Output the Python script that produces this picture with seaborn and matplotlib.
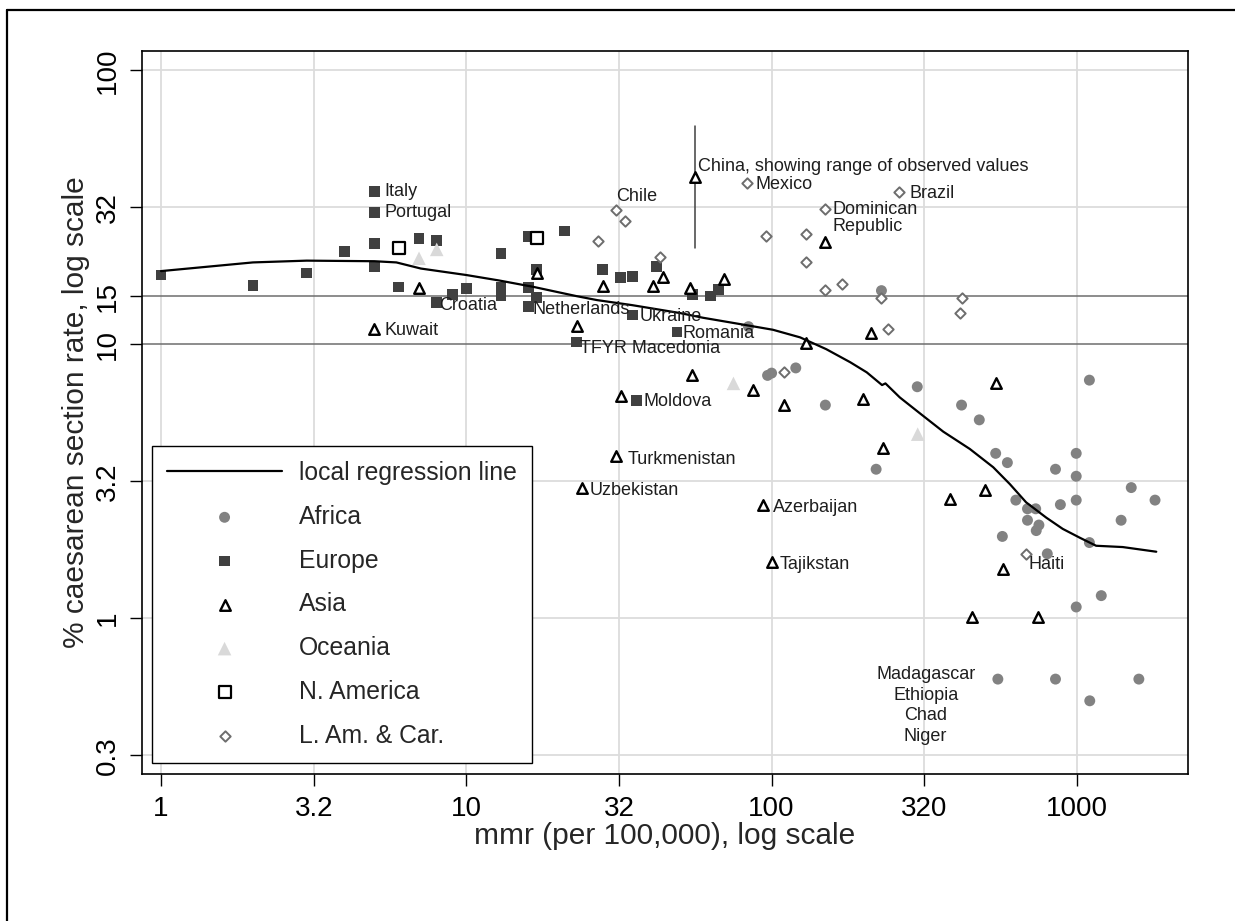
import matplotlib
matplotlib.use("Agg")
import matplotlib.pyplot as plt
from matplotlib.lines import Line2D
import seaborn as sns
import pandas as pd

# Values (mmr per 100,000 and % caesarean section)
africa_mmr = [84, 97, 100, 120, 150, 229, 220, 300, 419, 479, 542, 592, 851, 995, 995, 995, 1507, 1803,
              1396, 1099, 631, 689, 733, 689, 751, 736, 883, 570, 1099, 800, 1202, 995, 551, 851, 1596, 1102]
africa_cs = [11.6, 7.7, 7.85, 8.2, 6.0, 15.7, 3.5, 7.0, 6.0, 5.3, 4.0, 3.7, 3.5, 4.0, 3.3, 2.7, 3.0, 2.7,
             2.28, 7.4, 2.7, 2.51, 2.51, 2.28, 2.19, 2.09, 2.6, 1.99, 1.89, 1.72, 1.21, 1.10, 0.60, 0.60, 0.60, 0.50]

europe_mmr = [1.0, 2.0, 3.0, 4.0, 5.0, 5.0, 5.0, 5.0, 6.0, 7.0, 8.0, 8.0, 9.0, 10, 13, 13, 13, 16, 16, 16,
              17, 17, 21, 23, 28, 32, 35, 42, 35, 49, 36, 55, 63, 67]
europe_cs = [17.9, 16.4, 18.2, 21.8, 36.0, 30.3, 23.4, 19.2, 16.2, 24.3, 24.0, 14.2, 15.2, 16.0, 21.5, 16.2,
             15.1, 24.8, 13.7, 16.1, 18.7, 14.8, 25.9, 10.2, 18.7, 17.5, 17.7, 19.2, 12.8, 11.1, 6.25, 15.2,
             15.0, 15.8]

asia_mmr = [5, 7, 17, 23, 28, 41, 44, 54, 70, 56, 150, 130, 211, 55, 87, 32, 110, 200, 31, 24, 94, 100,
            231, 542, 384, 501, 571, 452, 745]
asia_cs = [11.4, 16.1, 18.2, 11.7, 16.3, 16.3, 17.6, 16.0, 17.3, 40.8, 23.6, 10.1, 11.0, 7.7, 6.8, 6.5, 6.0,
           6.3, 3.9, 3.0, 2.6, 1.61, 4.2, 7.2, 2.72, 2.94, 1.51, 1.01, 1.01]

oceania_mmr = [7, 8, 75, 301]
oceania_cs = [20.6, 22.2, 7.2, 4.7]

namerica_mmr = [6, 17]
namerica_cs = [22.5, 24.5]

lamcar_mmr = [31, 33, 27, 43, 83, 261, 150, 96, 130, 130, 150, 170, 229, 421, 414, 241, 110, 682]
lamcar_cs = [30.8, 28.3, 23.8, 20.8, 38.7, 36.1, 31.2, 24.9, 25.2, 19.9, 15.8, 16.6, 14.7, 14.7, 13.0,
             11.4, 7.9, 1.71]

# China: observed range
china_mmr = 56
china_range = [22.4, 62.8]

# local regression (loess) line
loess_mmr = [1.0, 2.0, 3.0, 5.0, 5.9, 7.1, 10.0, 12.8, 16.6, 22.9, 26.8, 34.9, 50.2, 59.6, 80.7, 101, 124,
             151, 181, 205, 230, 236, 263, 306, 365, 446, 532, 603, 682, 794, 899, 1021, 1156, 1413, 1820]
loess_cs = [18.5, 19.9, 20.2, 20.1, 19.9, 18.9, 17.9, 17.1, 16.2, 15.0, 14.5, 13.9, 13.0, 12.5, 11.8, 11.3,
            10.6, 9.6, 8.6, 7.9, 7.1, 7.2, 6.4, 5.6, 4.8, 4.15, 3.56, 3.09, 2.65, 2.33, 2.12, 1.97, 1.84,
            1.82, 1.75]

x_ticks = [1, 10 ** 0.5, 10, 10 ** 1.5, 100, 10 ** 2.5, 1000]
x_ticklabels = ["1", "3.2", "10", "32", "100", "320", "1000"]
y_ticks = [10 ** -0.5, 1, 10 ** 0.5, 10, 15, 10 ** 1.5, 100]
y_ticklabels = ["0.3", "1", "3.2", "10", "15", "32", "100"]

# country labels: (text, mmr, cs, dx pt, dy pt, ha, va)
labels = [
    ("Italy", 5.0, 36.0, 7, 0, "left", "center"),
    ("Portugal", 5.0, 30.3, 7, 0, "left", "center"),
    ("Kuwait", 5.0, 11.4, 7, -1, "left", "center"),
    ("Croatia", 8.0, 14.2, 2, -2, "left", "center"),
    ("Netherlands", 16, 13.7, 3, -2, "left", "center"),
    ("TFYR Macedonia", 23, 10.2, 2, -5, "left", "center"),
    ("Ukraine", 35, 12.8, 5, -1, "left", "center"),
    ("Romania", 49, 11.1, 4, -1, "left", "center"),
    ("Moldova", 36, 6.25, 5, -1, "left", "center"),
    ("Turkmenistan", 31, 3.9, 8, -2, "left", "center"),
    ("Uzbekistan", 24, 3.0, 5, -2, "left", "center"),
    ("Azerbaijan", 94, 2.6, 7, -2, "left", "center"),
    ("Tajikstan", 100, 1.61, 6, -2, "left", "center"),
    ("China, showing range of observed values", 56, 40.8, 2, 7.5, "left", "center"),
    ("Mexico", 83, 38.7, 6, -1, "left", "center"),
    ("Brazil", 261, 36.1, 8, -1.5, "left", "center"),
    ("Dominican\nRepublic", 150, 31.2, 5.5, 6, "left", "top"),
    ("Chile", 31, 30.8, 0, 10, "left", "center"),
    ("Haiti", 682, 1.71, 2, -7, "left", "center"),
    ("Madagascar\nEthiopia\nChad\nNiger", 551, 0.60, -52, 9.5, "center", "top"),
]

sns.set_style("white")
plt.rcParams["font.family"] = ["Liberation Sans", "DejaVu Sans"]

fig = plt.figure(figsize=(12.35, 9.21), dpi=100)
ax = fig.add_axes([141.5 / 1235, 1 - 774 / 921, (1188 - 141.5) / 1235, (774 - 50.7) / 921])
ax.set_xscale("log")
ax.set_yscale("log")
ax.set_xlim(0.863, 2312)
ax.set_ylim(0.2703, 117.9)

# grid
for v in x_ticks:
    ax.axvline(v, color="#dcdcdc", lw=1.3, zorder=0)
for v in [10 ** -0.5, 1, 10 ** 0.5, 10 ** 1.5, 100]:
    ax.axhline(v, color="#dcdcdc", lw=1.3, zorder=0)
for v in [10, 15]:
    ax.axhline(v, color="#6e6e6e", lw=1.1, zorder=1)

sns.scatterplot(x=africa_mmr, y=africa_cs, ax=ax, marker="o", s=62, color="#828282",
                edgecolor="none", label="Africa", zorder=3)
sns.scatterplot(x=europe_mmr, y=europe_cs, ax=ax, marker="s", s=60, color="#404040",
                edgecolor="none", label="Europe", zorder=3)
sns.scatterplot(x=asia_mmr, y=asia_cs, ax=ax, marker="^", s=58, color="white",
                edgecolor="black", linewidth=1.7, label="Asia", zorder=4)
sns.scatterplot(x=oceania_mmr, y=oceania_cs, ax=ax, marker="^", s=95, color="#d9d9d9",
                edgecolor="none", label="Oceania", zorder=3)
sns.scatterplot(x=namerica_mmr, y=namerica_cs, ax=ax, marker="s", s=75, color="white",
                edgecolor="black", linewidth=1.6, label="N. America", zorder=4)
sns.scatterplot(x=lamcar_mmr, y=lamcar_cs, ax=ax, marker="D", s=28, color="white",
                edgecolor="#6e6e6e", linewidth=1.4, label="L. Am. & Car.", zorder=4)

ax.plot([china_mmr, china_mmr], china_range, color="#404040", lw=1.1, zorder=2)

loess = pd.DataFrame({"mmr": loess_mmr, "cs": loess_cs})
sns.lineplot(data=loess, x="mmr", y="cs", ax=ax, color="black", lw=1.6,
             label="local regression line", zorder=5)

for text, x, y, dx, dy, ha, va in labels:
    ax.annotate(text, (x, y), xytext=(dx, dy), textcoords="offset points", ha=ha, va=va,
                fontsize=13, color="#1e1e1e", linespacing=1.0 if ha == "left" else 1.28, zorder=6)

ax.set_xticks(x_ticks)
ax.set_xticklabels(x_ticklabels)
ax.set_yticks(y_ticks)
ax.set_yticklabels(y_ticklabels, rotation=90, va="center")
ax.minorticks_off()
ax.tick_params(axis="both", direction="out", length=8.5, width=1, color="black",
               labelsize=20, labelcolor="black", bottom=True, left=True)
ax.tick_params(axis="x", pad=7)
ax.tick_params(axis="y", pad=6)
ax.set_xlabel("mmr (per 100,000), log scale", fontsize=21.5, labelpad=0)
ax.set_ylabel("% caesarean section rate, log scale", fontsize=21.5, labelpad=4)
for sp in ax.spines.values():
    sp.set_color("black")
    sp.set_linewidth(1.2)

handles, names = ax.get_legend_handles_labels()
order = ["local regression line", "Africa", "Europe", "Asia", "Oceania", "N. America", "L. Am. & Car."]
hmap = dict(zip(names, handles))
leg = ax.legend([hmap[n] for n in order], order, loc="lower left", bbox_to_anchor=(0.0098, 0.0152),
                borderaxespad=0, fontsize=17.8, handlelength=4.65, handletextpad=0.68,
                borderpad=0.62, labelspacing=0.8, frameon=True, fancybox=False, framealpha=1)
leg.get_frame().set_edgecolor("black")
leg.get_frame().set_linewidth(1.0)
leg.set_zorder(10)

# outer border (left and top edges visible in the reference)
fig.add_artist(Line2D([7 / 1235, 7 / 1235], [0, 1 - 10 / 921], color="black", lw=1.6))
fig.add_artist(Line2D([7 / 1235, 1], [1 - 10 / 921, 1 - 10 / 921], color="black", lw=1.6))

fig.savefig("out.png", dpi=100)
